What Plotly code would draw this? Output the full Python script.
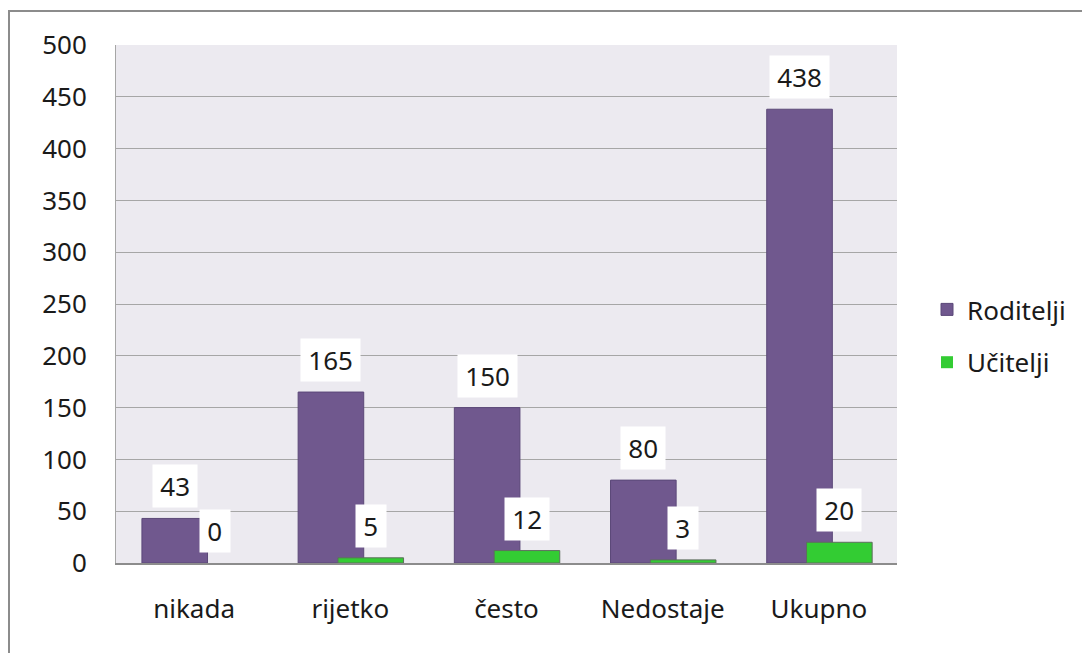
import plotly.graph_objects as go

categories = ["nikada", "rijetko", "često", "Nedostaje", "Ukupno"]
roditelji = [43, 165, 150, 80, 438]
ucitelji = [0, 5, 12, 3, 20]
y_ticks = [0, 50, 100, 150, 200, 250, 300, 350, 400, 450, 500]

# page has an 8px body margin; figure coordinates = page coordinates - 8
OFF = 8
W, H = 1090 - OFF, 653 - OFF
L = 116 - OFF
T = 45 - OFF
B = H - (563 - OFF)
R = W - (897 - OFF)
pw = W - L - R
ph = H - T - B

FONT = "Noto Sans"
FS = 26
PURPLE = "#70588E"
GREEN = "#33CC33"

bw = 0.42
off_p = -0.334
off_g = -0.079
xs = list(range(len(categories)))

fig = go.Figure()
fig.add_trace(go.Bar(
    x=xs, y=roditelji, name="Roditelji", width=bw, offset=off_p,
    marker=dict(color=PURPLE, line=dict(color="#5B4878",
                                        width=[1 if v > 0 else 0 for v in roditelji])),
    legendgroup="a",
))
fig.add_trace(go.Bar(
    x=xs, y=ucitelji, name="Učitelji", width=bw, offset=off_g,
    marker=dict(color=GREEN, line=dict(color="#5E6E5E",
                                       width=[1 if v > 0 else 0 for v in ucitelji])),
    legendgroup="b",
))

anns = []
for series, off in ((roditelji, off_p), (ucitelji, off_g)):
    for i, v in enumerate(series):
        anns.append(dict(x=i + off + bw / 2, y=v, text="&#8201;" + str(v) + "&#8201;",
                         showarrow=False, xref="x", yref="y",
                         yanchor="bottom", yshift=10,
                         bgcolor="white", borderpad=3,
                         font=dict(family=FONT, size=FS, color="#1a1a1a")))


def px_x(p):
    return (p - OFF - L) / pw


def px_y(p):
    return (H - B - (p - OFF)) / ph


fig.update_layout(
    width=W, height=H,
    margin=dict(l=L, r=R, t=T, b=B, autoexpand=False),
    paper_bgcolor="white",
    plot_bgcolor="#ECEAF0",
    barmode="overlay",
    font=dict(family=FONT, size=FS, color="#1a1a1a"),
    xaxis=dict(
        range=[-0.5, 4.5], tickvals=xs, ticktext=categories,
        showgrid=False, zeroline=False, showline=True, linecolor="#8C8C8C", linewidth=2,
        ticks="", ticklabelstandoff=22,
        tickfont=dict(family=FONT, size=FS, color="#1a1a1a"),
    ),
    yaxis=dict(
        range=[0, 500], tickvals=y_ticks,
        showgrid=True, gridcolor="#A6A6A6", gridwidth=1, zeroline=False,
        showline=True, linecolor="#A6A6A6", linewidth=1,
        ticks="", ticklabelstandoff=23,
        tickfont=dict(family=FONT, size=FS, color="#1a1a1a"),
    ),
    legend=dict(
        x=px_x(927), y=px_y(336), xanchor="left", yanchor="middle",
        font=dict(family=FONT, size=FS, color="#1a1a1a"),
        tracegroupgap=16, bgcolor="rgba(0,0,0,0)",
    ),
    annotations=anns,
    shapes=[dict(type="rect", xref="paper", yref="paper",
                 x0=px_x(9), y0=px_y(720), x1=px_x(1140), y1=px_y(11),
                 line=dict(color="#8C8C8C", width=2), fillcolor="rgba(0,0,0,0)",
                 layer="below")],
)

fig.write_html("out.html")
